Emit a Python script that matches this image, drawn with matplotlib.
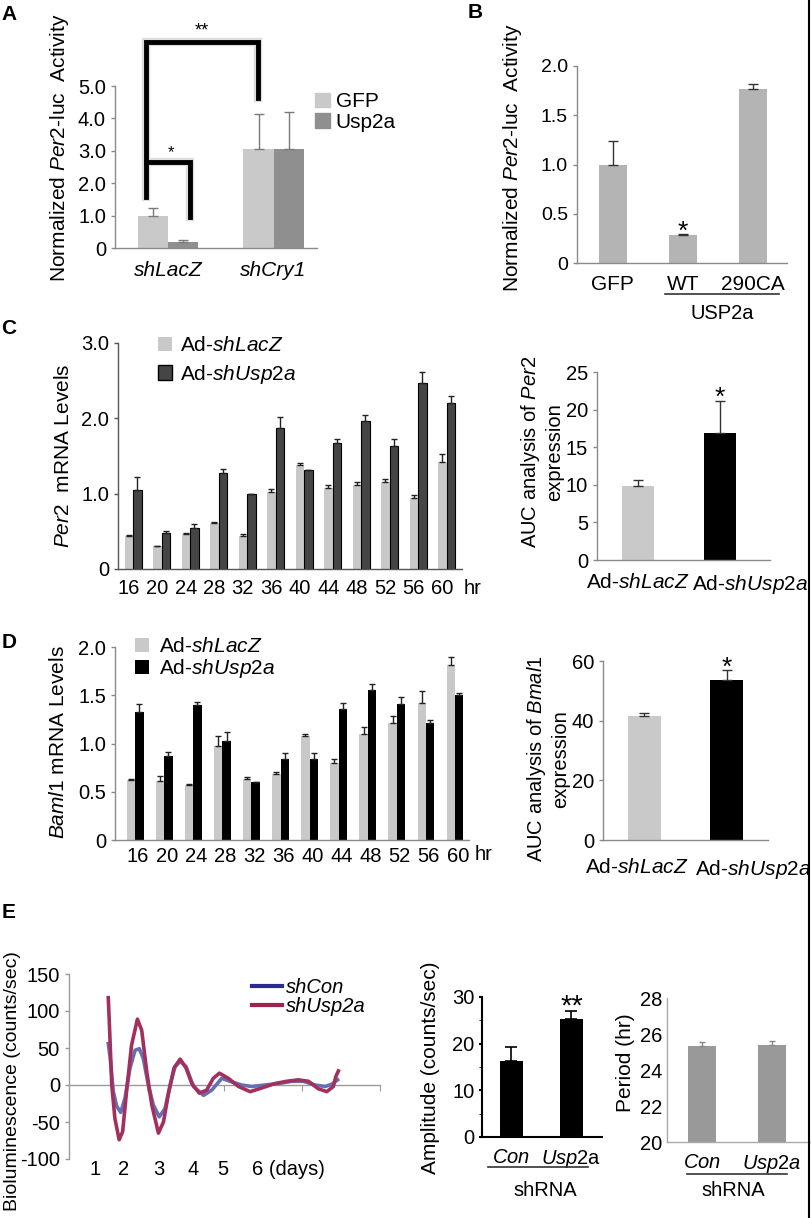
import numpy as np
import matplotlib.pyplot as plt
from matplotlib.lines import Line2D

plt.rcParams['font.family'] = ['Liberation Sans', 'DejaVu Sans']
plt.rcParams['mathtext.fontset'] = 'custom'
plt.rcParams['mathtext.rm'] = 'Liberation Sans'
plt.rcParams['mathtext.it'] = 'Liberation Sans:italic'
plt.rcParams['axes.unicode_minus'] = False

W, H = 812, 1218
FS = 14.5

# ---------------- data ----------------
# A: Per2-luc activity
a_groups = ['shLacZ', 'shCry1']
a_gfp = [1.0, 3.05]
a_gfp_err = [0.23, 1.10]
a_usp = [0.20, 3.05]
a_usp_err = [0.05, 1.15]

# B
b_labels = ['GFP', 'WT', '290CA']
b_vals = [1.0, 0.28, 1.77]
b_err = [0.24, 0.01, 0.05]

# C: Per2 mRNA
hours = [16, 20, 24, 28, 32, 36, 40, 44, 48, 52, 56, 60]
c_lacz = [0.44, 0.30, 0.46, 0.61, 0.44, 1.02, 1.38, 1.08, 1.12, 1.15, 0.94, 1.42]
c_lacz_err = [0.01, 0.01, 0.02, 0.01, 0.03, 0.04, 0.03, 0.03, 0.04, 0.04, 0.04, 0.10]
c_usp = [1.05, 0.48, 0.54, 1.28, 1.00, 1.87, 1.32, 1.67, 1.97, 1.63, 2.47, 2.21]
c_usp_err = [0.17, 0.03, 0.06, 0.05, 0.0, 0.15, 0.0, 0.05, 0.08, 0.09, 0.14, 0.08]
auc_labels = [r'Ad-$\mathit{shLacZ}$', r'Ad-$\mathit{shUsp2a}$']
c_auc = [9.9, 16.9]
c_auc_err = [0.7, 4.3]

# D: Bmal1 mRNA
d_lacz = [0.62, 0.61, 0.57, 0.97, 0.63, 0.68, 1.08, 0.80, 1.10, 1.21, 1.42, 1.81]
d_lacz_err = [0.01, 0.05, 0.01, 0.11, 0.02, 0.02, 0.02, 0.04, 0.07, 0.07, 0.12, 0.09]
d_usp = [1.33, 0.87, 1.40, 1.03, 0.60, 0.84, 0.84, 1.36, 1.55, 1.41, 1.21, 1.50]
d_usp_err = [0.08, 0.04, 0.03, 0.09, 0.0, 0.06, 0.06, 0.06, 0.07, 0.07, 0.03, 0.02]
d_auc = [41.6, 53.7]
d_auc_err = [1.0, 3.2]

# E: bioluminescence traces (days, counts/sec)
e_con_day = [1.01, 1.06, 1.14, 1.23, 1.33, 1.44, 1.57, 1.70, 1.81, 1.91,
             2.04, 2.17, 2.32, 2.47, 2.60, 2.73, 2.86, 3.01, 3.20, 3.46,
             3.67, 3.93, 4.14, 4.44, 4.70, 5.04, 5.38, 5.73, 6.03, 6.33,
             6.59, 6.76, 6.91]
e_con = [56, 36, -9, -29, -37, -18, 23, 47, 49, 36,
         0, -27, -43, -32, 0, 25, 32, 25, -2, -14,
         -7, 9, 5, 0, -2, 0, 2, 5, 5, 0,
         -2, 1, 7]
e_usp_day = [1.01, 1.04, 1.10, 1.18, 1.29, 1.38, 1.48, 1.61, 1.76, 1.87,
             2.00, 2.13, 2.30, 2.43, 2.55, 2.70, 2.86, 3.01, 3.16, 3.35,
             3.54, 3.71, 3.87, 4.10, 4.36, 4.66, 4.96, 5.30, 5.60, 5.90,
             6.16, 6.41, 6.63, 6.80, 6.86, 6.93]
e_usp = [118, 81, 0, -45, -74, -63, -9, 54, 89, 74,
         18, -27, -65, -50, -14, 23, 35, 23, 2, -11,
         -7, 9, 16, 9, -2, -9, -4, 2, 5, 7,
         5, -5, -9, -2, 11, 19]
e_day_labels = ['1', '2', '3', '4', '5', '6 (days)']
e_day_label_x = [0.67, 1.41, 2.32, 3.19, 3.96, 4.71]
e_amp = [16.2, 25.2]
e_amp_err = [3.0, 1.9]
e_period = [25.35, 25.40]
e_period_err = [0.2, 0.2]

LIGHT = '#c9c9c9'

fig = plt.figure(figsize=(W / 100, H / 100), dpi=100)


def px_axes(l, t, r, b):
    return fig.add_axes([l / W, 1 - b / H, (r - l) / W, (b - t) / H])


def style(ax, color='#8a8a8a', lw=1.0):
    for s in ['top', 'right']:
        ax.spines[s].set_visible(False)
    for s in ['left', 'bottom']:
        ax.spines[s].set_color(color)
        ax.spines[s].set_linewidth(lw)
    ax.tick_params(axis='y', color=color, length=3, width=lw, labelsize=FS)
    ax.tick_params(axis='x', length=0, labelsize=FS)


def ftext(x, y, s, **kw):
    fig.text(x / W, 1 - y / H, s, **kw)


def fline(x0, x1, y, color='#333333', lw=1.2):
    fig.add_artist(Line2D([x0 / W, x1 / W], [1 - y / H] * 2, color=color, lw=lw))


def bars(ax, x, vals, err, width, color, ecolor, cap, edge=None):
    ax.bar(x, vals, width, color=color, edgecolor=edge if edge else color,
           linewidth=0.8 if edge else 0, zorder=2)
    ax.errorbar(x, vals, yerr=[np.zeros(len(vals)), err], fmt='none',
                ecolor=ecolor, elinewidth=1, capsize=cap, capthick=1, zorder=3)


def star(ax, x, y, s, size):
    ax.annotate(s, (x, y), xytext=(0, -3), textcoords='offset points',
                ha='center', va='baseline', fontsize=size)


# ---------------- A ----------------
ax = px_axes(115, 86, 317, 248)
style(ax)
xa = np.arange(len(a_groups))
w = 0.285
bars(ax, xa - w / 2, a_gfp, a_gfp_err, w, LIGHT, '#7a7a7a', 3.5)
bars(ax, xa + w / 2, a_usp, a_usp_err, w, '#8f8f8f', '#7a7a7a', 3.5)
ax.set_xlim(-0.5, 1.41)
ax.set_ylim(0, 5)
ax.set_yticks([0, 1, 2, 3, 4, 5])
ax.set_yticklabels(['0', '1.0', '2.0', '3.0', '4.0', '5.0'])
ax.set_xticks(xa)
ax.set_xticklabels(a_groups, fontstyle='italic', fontsize=15)
ax.tick_params(axis='x', pad=9)
for c, lw in [('#dddddd', 6), ('black', 3.5)]:
    ax.plot([-0.21, -0.21, 0.85, 0.85], [1.57, 6.36, 6.36, 4.63], color=c, lw=lw,
            clip_on=False, solid_joinstyle='miter', zorder=4)
    ax.plot([-0.21, 0.21, 0.21], [2.65, 2.65, 0.96], color=c, lw=lw,
            clip_on=False, solid_joinstyle='miter', zorder=4)
ax.text(0.03, 2.82, '*', ha='center', va='baseline', fontsize=12)
ax.text(0.32, 6.56, '**', ha='center', va='baseline', fontsize=13)
ax.legend(handles=[plt.Rectangle((0, 0), 1, 1, color=LIGHT),
                   plt.Rectangle((0, 0), 1, 1, color='#8f8f8f')],
          labels=['GFP', 'Usp2a'], loc='upper left', bbox_to_anchor=(0.99, 0.96),
          frameon=False, fontsize=15, handlelength=0.7, handleheight=0.7,
          handletextpad=0.3, labelspacing=0.05, borderpad=0, borderaxespad=0)
ftext(60, 148, r'Normalized $\mathit{Per2}$-luc  Activity', rotation=90,
      ha='center', va='center', fontsize=15)

# ---------------- B ----------------
ax = px_axes(577, 66, 787, 263)
style(ax)
xb = np.arange(len(b_labels))
bars(ax, xb, b_vals, b_err, 0.4, '#b4b4b4', '#333333', 3.5)
ax.set_xlim(-0.51, 2.49)
ax.set_ylim(0, 2)
ax.set_yticks([0, 0.5, 1.0, 1.5, 2.0])
ax.set_yticklabels(['0', '0.5', '1.0', '1.5', '2.0'], fontsize=14)
ax.set_xticks(xb)
ax.set_xticklabels(b_labels, fontsize=15)
ax.tick_params(axis='x', pad=9)
star(ax, xb[1], b_vals[1] + b_err[1], '*', 19)
fline(665, 779, 294)
ftext(722, 313, 'USP2a', ha='center', va='center', fontsize=FS)
ftext(513, 158, r'Normalized $\mathit{Per2}$-luc  Activity', rotation=90,
      ha='center', va='center', fontsize=15)

# ---------------- C left ----------------
ax = px_axes(118, 343, 462, 569)
style(ax, '#555555')
xc = np.arange(len(hours))
w = 0.3
bars(ax, xc - w / 2, c_lacz, c_lacz_err, w, LIGHT, '#222222', 2.2)
bars(ax, xc + w / 2, c_usp, c_usp_err, w, '#454545', '#222222', 2.2, edge='black')
ax.set_xlim(-0.53, 11.54)
ax.set_ylim(0, 3)
ax.set_yticks([0, 1, 2, 3])
ax.set_yticklabels(['0', '1.0', '2.0', '3.0'])
ax.set_xticks(xc - 0.15)
ax.set_xticklabels([str(h) for h in hours])
ax.tick_params(axis='x', pad=7)
ftext(473, 588, 'hr', ha='center', va='center', fontsize=FS)
ax.legend(handles=[plt.Rectangle((0, 0), 1, 1, facecolor=LIGHT, edgecolor='none'),
                   plt.Rectangle((0, 0), 1, 1, facecolor='#454545', edgecolor='black')],
          labels=[r'Ad-$\mathit{shLacZ}$', r'Ad-$\mathit{shUsp2a}$'],
          loc='upper left', bbox_to_anchor=(0.116, 1.03), frameon=False,
          fontsize=15, handlelength=0.7, handleheight=0.7, handletextpad=0.35,
          labelspacing=0.35, borderpad=0, borderaxespad=0)
ftext(64, 456, r'$\mathit{Per2}$  mRNA Levels', rotation=90, ha='center',
      va='center', fontsize=15)

# ---------------- C right ----------------
ax = px_axes(597, 372, 770, 560)
style(ax)
xr = np.arange(2)
ax.bar(xr, c_auc, 0.4, color=[LIGHT, 'black'], zorder=2)
ax.errorbar(xr, c_auc, yerr=[np.zeros(2), c_auc_err], fmt='none', ecolor='#333333',
            elinewidth=1, capsize=3.5, zorder=3)
ax.set_xlim(-0.5, 1.61)
ax.set_ylim(0, 25)
ax.set_yticks([0, 5, 10, 15, 20, 25])
ax.set_xticks([0, 1.37])
ax.set_xticklabels(auc_labels, fontsize=15)
ax.tick_params(axis='x', pad=9)
star(ax, xr[1], c_auc[1] + c_auc_err[1], '*', 19)
ftext(542, 452, 'AUC analysis of $\\mathit{Per2}$\nexpression', rotation=90,
      ha='center', va='center', fontsize=14.5, linespacing=1.2, multialignment='center')

# ---------------- D left ----------------
ax = px_axes(115, 647, 469, 840)
style(ax)
w = 0.29
bars(ax, xc - w / 2, d_lacz, d_lacz_err, w, LIGHT, '#222222', 2.2)
bars(ax, xc + w / 2, d_usp, d_usp_err, w, 'black', '#222222', 2.2)
ax.set_xlim(-0.69, 11.48)
ax.set_ylim(0, 2)
ax.set_yticks([0, 0.5, 1.0, 1.5, 2.0])
ax.set_yticklabels(['0', '0.5', '1.0', '1.5', '2.0'])
ax.set_xticks(xc + 0.1)
ax.set_xticklabels([str(h) for h in hours])
ax.tick_params(axis='x', pad=5)
ftext(484, 855, 'hr', ha='center', va='center', fontsize=FS)
ax.legend(handles=[plt.Rectangle((0, 0), 1, 1, facecolor=LIGHT),
                   plt.Rectangle((0, 0), 1, 1, facecolor='black')],
          labels=[r'Ad-$\mathit{shLacZ}$', r'Ad-$\mathit{shUsp2a}$'],
          loc='upper left', bbox_to_anchor=(0.056, 1.05), frameon=False,
          fontsize=15, handlelength=0.7, handleheight=0.7, handletextpad=0.45,
          labelspacing=0.05, borderpad=0, borderaxespad=0)
ftext(59, 742, r'$\mathit{Baml1}$ mRNA Levels', rotation=90, ha='center',
      va='center', fontsize=15)

# ---------------- D right ----------------
ax = px_axes(603, 661, 768, 840)
style(ax)
ax.bar(xr, d_auc, 0.4, color=[LIGHT, 'black'], zorder=2)
ax.errorbar(xr, d_auc, yerr=[np.zeros(2), d_auc_err], fmt='none', ecolor='#333333',
            elinewidth=1, capsize=3.5, zorder=3)
ax.set_xlim(-0.5, 1.5)
ax.set_ylim(0, 60)
ax.set_yticks([0, 20, 40, 60])
ax.set_xticks([-0.09, 1.32])
ax.set_xticklabels(auc_labels, fontsize=15)
ax.tick_params(axis='x', pad=13)
star(ax, xr[1], d_auc[1] + d_auc_err[1], '*', 19)
ftext(548, 759, 'AUC analysis of $\\mathit{Bmal1}$\nexpression', rotation=90,
      ha='center', va='center', fontsize=14.5, linespacing=1.2, multialignment='center')

# ---------------- E left ----------------
ax = px_axes(69, 974, 380, 1159)
style(ax, '#9a9a9a')
ax.spines['bottom'].set_position(('data', 0))
ax.plot(e_con_day, e_con, color='#6570b2', lw=2.6, zorder=3)
ax.plot(e_usp_day, e_usp, color='#a3305c', lw=2.6, zorder=4)
ax.set_xlim(0, 8)
ax.set_ylim(-100, 150)
ax.set_yticks([-100, -50, 0, 50, 100, 150])
ax.set_xticks([2, 4, 6, 8])
ax.tick_params(axis='x', length=4, color='#9a9a9a', labelbottom=False, direction='out')
for s, xd in zip(e_day_labels, e_day_label_x):
    ax.text(xd, -101, s, ha='left' if 'days' in s else 'center', va='top', fontsize=FS)
ax.legend(handles=[Line2D([], [], color='#2b2b92', lw=3),
                   Line2D([], [], color='#9a2450', lw=3)],
          labels=['shCon', 'shUsp2a'], loc='upper left', bbox_to_anchor=(0.588, 0.98),
          frameon=False, prop={'style': 'italic', 'size': FS}, handlelength=1.5,
          handletextpad=0.2, labelspacing=0.0, borderpad=0, borderaxespad=0)
ftext(13, 1081, 'Bioluminescence (counts/sec)', rotation=90, ha='center',
      va='center', fontsize=14)

# ---------------- E middle ----------------
ax = px_axes(482, 997, 602, 1137)
style(ax, 'black', 1.5)
ax.bar(xr, e_amp, 0.38, color='black', zorder=2)
ax.errorbar(xr, e_amp, yerr=[np.zeros(2), e_amp_err], fmt='none', ecolor='black',
            elinewidth=1.2, capsize=4, capthick=1.2, zorder=3)
ax.set_xlim(-0.49, 1.51)
ax.set_ylim(0, 30)
ax.set_yticks([0, 10, 20, 30])
ax.set_yticks([5, 15, 25], minor=True)
ax.tick_params(axis='y', which='both', length=2)
ax.set_xticks(xr)
ax.set_xticklabels(['$\\mathit{Con}$', '$\\mathit{Usp2}$a'], fontsize=FS)
ax.tick_params(axis='x', pad=8)
star(ax, xr[1], e_amp[1] + e_amp_err[1], '**', 21)
fline(488, 588, 1167)
ftext(545, 1190, 'shRNA', ha='center', va='center', fontsize=FS)
ftext(431, 1068, 'Amplitude (counts/sec)', rotation=90, ha='center',
      va='center', fontsize=15)

# ---------------- E right ----------------
ax = px_axes(667, 998, 810, 1142)
style(ax, '#aaaaaa')
ax.bar(xr, e_period, 0.4, color='#999999', zorder=2)
ax.errorbar(xr, e_period, yerr=[np.zeros(2), e_period_err], fmt='none',
            ecolor='#888888', elinewidth=1, capsize=2.5, zorder=3)
ax.set_xlim(-0.5, 1.54)
ax.set_ylim(20, 28)
ax.set_yticks([20, 22, 24, 26, 28])
ax.tick_params(axis='y', length=0)
ax.set_xticks(xr)
ax.set_xticklabels(['$\\mathit{Con}$', '$\\mathit{Usp2a}$'], fontsize=FS)
ax.tick_params(axis='x', pad=8)
fline(687, 787, 1174)
ftext(733, 1191, 'shRNA', ha='center', va='center', fontsize=FS)
ftext(626, 1063, 'Period (hr)', rotation=90, ha='center', va='center', fontsize=15)

# panel letters
for s, x, y in [('A', 9, 14), ('B', 475, 12), ('C', 9, 328), ('D', 9, 642), ('E', 9, 913)]:
    ftext(x, y, s, ha='center', va='center', fontsize=15, fontweight='bold')

# right border line
fig.add_artist(Line2D([809 / W, 809 / W], [0, 1], color='black', lw=1.5))

fig.savefig('out.png', dpi=100)
